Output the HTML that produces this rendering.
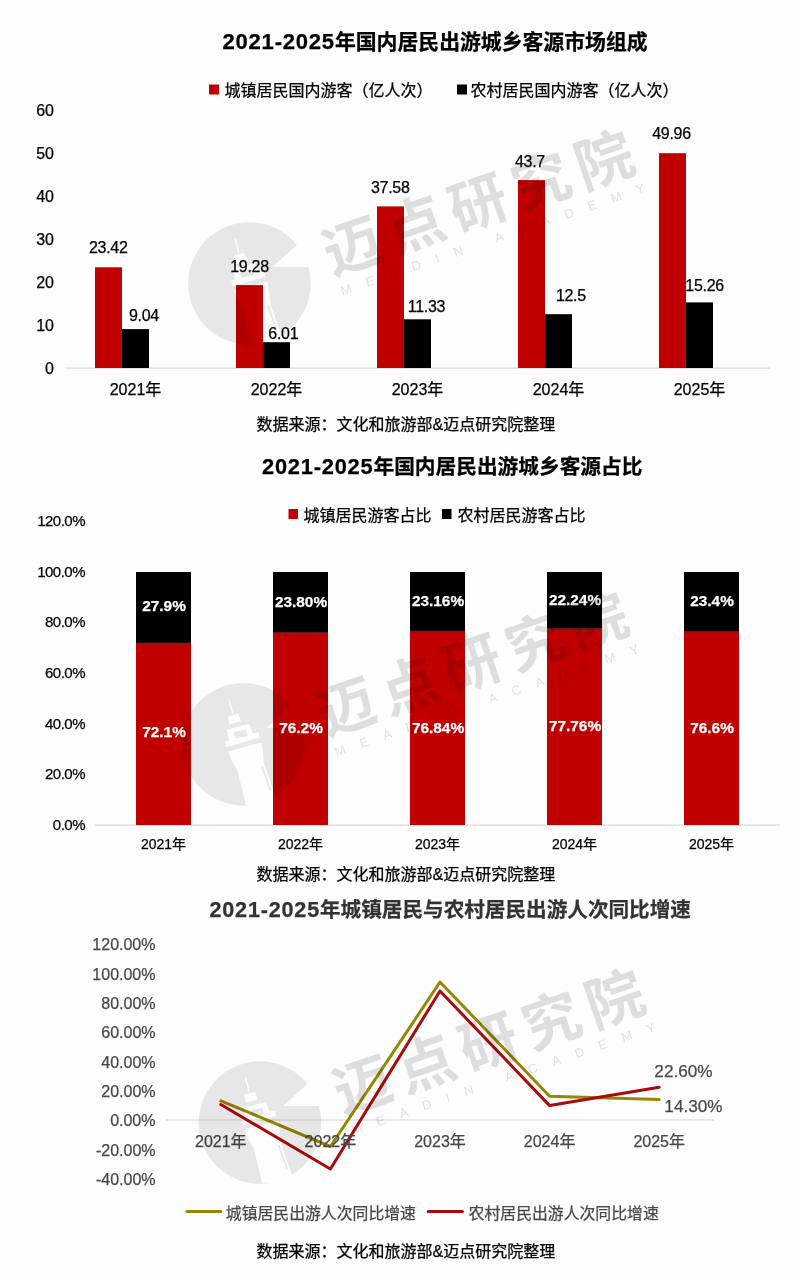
<!DOCTYPE html>
<html lang="zh-CN"><head><meta charset="utf-8"><title>2021-2025年国内居民出游城乡客源市场</title>
<style>
html,body{margin:0;padding:0;background:#fdfdfd;}
body{width:800px;height:1280px;overflow:hidden;}
svg{display:block;font-family:"Liberation Sans","Noto Sans CJK SC",sans-serif;}
.t{font-weight:700;font-size:20.85px;}
.lat{font-size:22px;letter-spacing:0.8px;}
#chart1 text,#chart2 text,#chart3 text{stroke:currentColor;stroke-width:0.25px;}
.m{text-anchor:middle;}
.e{text-anchor:end;}
.w{color:#fff;fill:#fff;font-weight:700;font-size:15.4px;text-anchor:middle;}
.g{fill:#484848;color:#484848;}
</style></head><body>
<svg width="800" height="1280" viewBox="0 0 800 1280">
<rect width="800" height="1280" fill="#fdfdfd"/>
<g id="chart1">
<text class="t" x="222.5" y="48.5" fill="#000" style="font-size:20.85px;color:#000"><tspan class="lat" style="font-size:22px">2021-2025</tspan>年国内居民出游城乡客源市场组成</text>
<rect x="209" y="84.5" width="10" height="10" fill="#c00000"/>
<text x="224.5" y="95.5" font-size="16">城镇居民国内游客（亿人次）</text>
<rect x="457" y="84.5" width="10" height="10" fill="#000"/>
<text x="470.5" y="95.5" font-size="16">农村居民国内游客（亿人次）</text>
<text class="e" x="54" y="373.8" font-size="16">0</text>
<text class="e" x="54" y="330.8" font-size="16">10</text>
<text class="e" x="54" y="287.8" font-size="16">20</text>
<text class="e" x="54" y="244.8" font-size="16">30</text>
<text class="e" x="54" y="201.8" font-size="16">40</text>
<text class="e" x="54" y="158.8" font-size="16">50</text>
<text class="e" x="54" y="115.8" font-size="16">60</text>
<rect x="65" y="367.5" width="705" height="1.2" fill="#d9d9d9"/>
<rect x="95" y="267.3" width="27" height="100.7" fill="#c00000"/>
<rect x="122" y="329.1" width="27" height="38.9" fill="#000"/>
<rect x="236" y="285.1" width="27" height="82.9" fill="#c00000"/>
<rect x="263" y="342.2" width="27" height="25.8" fill="#000"/>
<rect x="377" y="206.4" width="27" height="161.6" fill="#c00000"/>
<rect x="404" y="319.3" width="27" height="48.7" fill="#000"/>
<rect x="518" y="180.1" width="27" height="187.9" fill="#c00000"/>
<rect x="545" y="314.2" width="27" height="53.8" fill="#000"/>
<rect x="659" y="153.2" width="27" height="214.8" fill="#c00000"/>
<rect x="686" y="302.4" width="27" height="65.6" fill="#000"/>
<text class="m" x="108.3" y="253.3" font-size="16" letter-spacing="-0.3">23.42</text>
<text class="m" x="144" y="320.8" font-size="16" letter-spacing="-0.3">9.04</text>
<text class="m" x="249.5" y="272.3" font-size="16" letter-spacing="-0.3">19.28</text>
<text class="m" x="283.3" y="338.8" font-size="16" letter-spacing="-0.3">6.01</text>
<text class="m" x="390.3" y="192.8" font-size="16" letter-spacing="-0.3">37.58</text>
<text class="m" x="426.5" y="312.2" font-size="16" letter-spacing="-0.3">11.33</text>
<text class="m" x="530" y="167.4" font-size="16" letter-spacing="-0.3">43.7</text>
<text class="m" x="570.9" y="301.3" font-size="16" letter-spacing="-0.3">12.5</text>
<text class="m" x="671.5" y="139.4" font-size="16" letter-spacing="-0.3">49.96</text>
<text class="m" x="704.6" y="290.8" font-size="16" letter-spacing="-0.3">15.26</text>
<text class="m" x="135.5" y="394.5" font-size="16">2021年</text>
<text class="m" x="276.5" y="394.5" font-size="16">2022年</text>
<text class="m" x="417.5" y="394.5" font-size="16">2023年</text>
<text class="m" x="558.5" y="394.5" font-size="16">2024年</text>
<text class="m" x="699.5" y="394.5" font-size="16">2025年</text>
<text x="256.5" y="429.5" font-size="16">数据来源：文化和旅游部&amp;迈点研究院整理</text>
</g>
<g id="chart2">
<text class="t" x="262" y="474" fill="#000" style="font-size:20.7px;color:#000"><tspan class="lat" style="font-size:21.8px">2021-2025</tspan>年国内居民出游城乡客源占比</text>
<rect x="288.5" y="509" width="9.5" height="10" fill="#c00000"/>
<text x="303.5" y="520.5" font-size="16">城镇居民游客占比</text>
<rect x="442" y="509" width="9.5" height="10" fill="#000"/>
<text x="457.5" y="520.5" font-size="16">农村居民游客占比</text>
<text class="e" x="85" y="829.7" font-size="15" letter-spacing="-0.5">0.0%</text>
<text class="e" x="85" y="779.1" font-size="15" letter-spacing="-0.5">20.0%</text>
<text class="e" x="85" y="728.5" font-size="15" letter-spacing="-0.5">40.0%</text>
<text class="e" x="85" y="677.9" font-size="15" letter-spacing="-0.5">60.0%</text>
<text class="e" x="85" y="627.3" font-size="15" letter-spacing="-0.5">80.0%</text>
<text class="e" x="85" y="576.7" font-size="15" letter-spacing="-0.5">100.0%</text>
<text class="e" x="85" y="526.1" font-size="15" letter-spacing="-0.5">120.0%</text>
<rect x="95" y="824.5" width="685" height="1.2" fill="#d9d9d9"/>
<rect x="136" y="642.6" width="55" height="182.4" fill="#c00000"/>
<rect x="136" y="572" width="55" height="70.9" fill="#000"/>
<rect x="273" y="632.2" width="55" height="192.8" fill="#c00000"/>
<rect x="273" y="572" width="55" height="60.5" fill="#000"/>
<rect x="410" y="630.6" width="55" height="194.4" fill="#c00000"/>
<rect x="410" y="572" width="55" height="58.9" fill="#000"/>
<rect x="547" y="628.3" width="55" height="196.7" fill="#c00000"/>
<rect x="547" y="572" width="55" height="56.6" fill="#000"/>
<rect x="684" y="631.2" width="55" height="193.8" fill="#c00000"/>
<rect x="684" y="572" width="55" height="59.5" fill="#000"/>
<text class="w" x="164.0" y="610.6">27.9%</text>
<text class="w" x="164.0" y="737.1">72.1%</text>
<text class="w" x="301.0" y="606.9">23.80%</text>
<text class="w" x="301.0" y="733.4">76.2%</text>
<text class="w" x="438.0" y="606.1">23.16%</text>
<text class="w" x="438.0" y="732.6">76.84%</text>
<text class="w" x="575.0" y="604.9">22.24%</text>
<text class="w" x="575.0" y="731.4">77.76%</text>
<text class="w" x="712.0" y="606.4">23.4%</text>
<text class="w" x="712.0" y="732.9">76.6%</text>
<text class="m" x="163.5" y="848.5" font-size="14">2021年</text>
<text class="m" x="300.5" y="848.5" font-size="14">2022年</text>
<text class="m" x="437.5" y="848.5" font-size="14">2023年</text>
<text class="m" x="574.5" y="848.5" font-size="14">2024年</text>
<text class="m" x="711.5" y="848.5" font-size="14">2025年</text>
<text x="256.5" y="880" font-size="16">数据来源：文化和旅游部&amp;迈点研究院整理</text>
</g>
<g id="chart3">
<text class="t" x="209.5" y="916.5" fill="#333" style="font-size:20.62px;color:#333"><tspan class="lat" style="font-size:21.6px">2021-2025</tspan>年城镇居民与农村居民出游人次同比增速</text>
<text class="e g" x="155.5" y="1185.0" font-size="16">-40.00%</text>
<text class="e g" x="155.5" y="1155.6" font-size="16">-20.00%</text>
<text class="e g" x="155.5" y="1126.3" font-size="16">0.00%</text>
<text class="e g" x="155.5" y="1097.0" font-size="16">20.00%</text>
<text class="e g" x="155.5" y="1067.6" font-size="16">40.00%</text>
<text class="e g" x="155.5" y="1038.2" font-size="16">60.00%</text>
<text class="e g" x="155.5" y="1008.9" font-size="16">80.00%</text>
<text class="e g" x="155.5" y="979.5" font-size="16">100.00%</text>
<text class="e g" x="155.5" y="950.2" font-size="16">120.00%</text>
<rect x="166" y="1119.4" width="548" height="1.2" fill="#d9d9d9"/>
<polyline points="220.8,1100.8 330.4,1146.5 440.0,982 549.6,1096.2 659.2,1099.5" fill="none" stroke="#978600" stroke-width="3" stroke-linejoin="round" stroke-linecap="round"/>
<polyline points="220.8,1104.5 330.4,1169 440.0,991 549.6,1105.6 659.2,1087.2" fill="none" stroke="#aa0a0a" stroke-width="3" stroke-linejoin="round" stroke-linecap="round"/>
<text class="m g" x="220.8" y="1146.5" font-size="16">2021年</text>
<text class="m g" x="330.4" y="1146.5" font-size="16">2022年</text>
<text class="m g" x="440.0" y="1146.5" font-size="16">2023年</text>
<text class="m g" x="549.6" y="1146.5" font-size="16">2024年</text>
<text class="m g" x="659.2" y="1146.5" font-size="16">2025年</text>
<text class="m g" x="683.5" y="1077.2" font-size="17.2">22.60%</text>
<text class="m g" x="693.5" y="1111.6" font-size="17.2">14.30%</text>
<line x1="187" y1="1211.5" x2="220.8" y2="1211.5" stroke="#978600" stroke-width="3" stroke-linecap="round"/>
<text class="g" x="225.8" y="1218.5" font-size="15.85">城镇居民出游人次同比增速</text>
<line x1="428.2" y1="1211.5" x2="462.5" y2="1211.5" stroke="#aa0a0a" stroke-width="3" stroke-linecap="round"/>
<text class="g" x="468.6" y="1218.5" font-size="15.85">农村居民出游人次同比增速</text>
<text x="256.5" y="1257" font-size="16">数据来源：文化和旅游部&amp;迈点研究院整理</text>
</g>
<defs><g id="wm">
<mask id="tm" maskUnits="userSpaceOnUse" x="-70" y="-70" width="140" height="140"><rect x="-70" y="-70" width="140" height="140" fill="#fff"/><g transform="translate(6,-0.8)"><g fill="#000"><path d="M-20.6,-44.1 L-16.6,-29.5" stroke="#000" stroke-width="1.3" fill="none"/><path d="M-21.9,-27.1 L-11.2,-29.8 L-8.4,-22.2 L-19.8,-18.9 Z"/><path d="M-22.6,-14.1 L-0.3,-19.7 L4.5,-7.6 L-19.8,-0.2 Z"/><path d="M-24.2,-1.9 L9,-11.5 L9.8,-6 L-23.1,3.8 Z"/><path d="M-21.4,7.9 L11.9,-1.1 L13.5,7.9 L14.3,19.3 L28.9,61.5 L-3.6,61.5 L-12.5,25.8 L-17.4,18.4 Z"/></g><path fill="#fff" d="M-15.8,-11.6 L-3.6,-14.1 L-1.9,-7.6 L-14.1,-5.1 Z"/><path d="M12.5,23 L21,47" stroke="#fff" stroke-width="2" fill="none"/></g></mask>
<path mask="url(#tm)" fill="#000" fill-opacity="0.085" d="M23,-16.5 L59.0,-16.5 A61.3,61.3 0 1 1 47.6,-38.6 Z"/>
<g transform="rotate(-18.9)">
<text x="80.4" y="19.2" font-size="58" letter-spacing="8.5" fill="#000" fill-opacity="0.12" font-weight="700">迈点研究院</text>
<text x="84" y="41.6" font-size="13" letter-spacing="15.6" fill="#000" fill-opacity="0.12">MEADIN ACADEMY</text>
</g>
</g></defs>
<use href="#wm" x="249.5" y="283.5"/>
<use href="#wm" x="243.5" y="744.3"/>
<use href="#wm" x="260" y="1122.6"/>
</svg></body></html>
